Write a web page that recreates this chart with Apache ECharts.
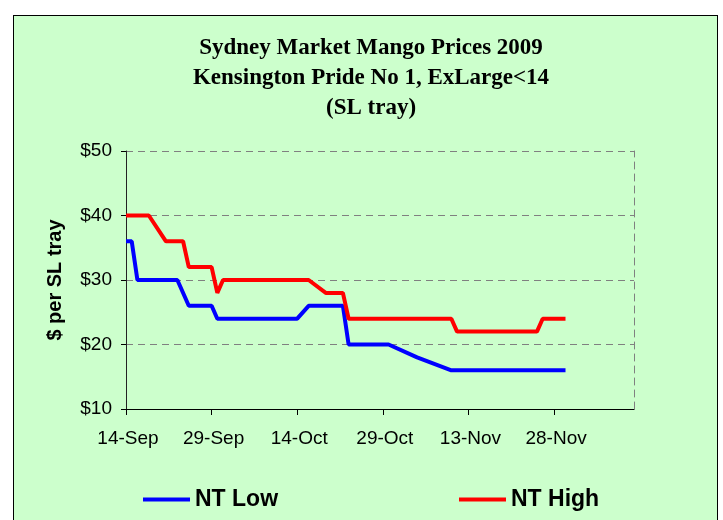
<!DOCTYPE html>
<html>
<head>
<meta charset="utf-8">
<script src="https://cdn.jsdelivr.net/npm/echarts@6/dist/echarts.min.js"></script>
<style>
  html, body { margin: 0; padding: 0; background: #ffffff; }
  #wrap { position: relative; width: 723px; height: 520px; overflow: hidden; }
  #box { position: absolute; left: 13px; top: 15px; width: 703px; height: 540px;
         border: 1px solid #000; background: #CCFFCC; }
  #chart { position: absolute; left: 0; top: 0; width: 723px; height: 520px; }
</style>
</head>
<body>
<div id="wrap"><div id="box"></div><div id="chart"></div></div>
<script>
// ---- data ----
const titleLines = ['Sydney Market Mango Prices 2009', 'Kensington Pride No 1, ExLarge<14', '(SL tray)'];
const yAxisName = '$ per SL tray';
const axisStart = '2009-09-14';
const axisEnd = '2009-12-12';
const tickStepDays = 15;
const yMin = 10, yMax = 50, yStep = 10;
const monthNames = ['Jan','Feb','Mar','Apr','May','Jun','Jul','Aug','Sep','Oct','Nov','Dec'];

const lowName = 'NT Low';
const lowDates = ['2009-09-14','2009-09-15','2009-09-16','2009-09-23','2009-09-25','2009-09-29','2009-09-30',
                  '2009-10-14','2009-10-16','2009-10-22','2009-10-23','2009-10-30','2009-11-04','2009-11-10','2009-11-30'];
const lowValues = [36,36,30,30,26,26,24,24,26,26,20,20,18,16,16];

const highName = 'NT High';
const highDates = ['2009-09-14','2009-09-18','2009-09-21','2009-09-24','2009-09-25','2009-09-29','2009-09-30',
                   '2009-10-01','2009-10-16','2009-10-19','2009-10-22','2009-10-23','2009-11-10','2009-11-11',
                   '2009-11-25','2009-11-26','2009-11-30'];
const highValues = [40,40,36,36,32,32,28,30,30,28,28,24,24,22,22,24,24];

// ---- helpers ----
const DAY = 86400000;
const t0 = Date.parse(axisStart);
function dayOf(d) { return (Date.parse(d) - t0) / DAY; }
function pairs(dates, vals) { return dates.map((d, i) => [dayOf(d), vals[i]]); }
function fmtDay(v) {
  const dt = new Date(t0 + v * DAY);
  return dt.getUTCDate() + '-' + monthNames[dt.getUTCMonth()];
}

const chart = echarts.init(document.getElementById('chart'), null, { renderer: 'canvas' });
const sans = 'Liberation Sans, Arial, sans-serif';
chart.setOption({
  animation: false,
  backgroundColor: 'transparent',
  title: {
    text: titleLines.join('\n'),
    left: 366, top: 28, textAlign: 'center',
    textStyle: { fontFamily: 'Liberation Serif, Times New Roman, serif', fontWeight: 'bold',
                 fontSize: 23, lineHeight: 30, color: '#000' }
  },
  legend: [
    { data: [lowName], left: 138, top: 483, icon: 'rect', itemWidth: 47, itemHeight: 4,
      textStyle: { fontFamily: sans, fontWeight: 'bold', fontSize: 23, color: '#000' } },
    { data: [highName], left: 454, top: 483, icon: 'rect', itemWidth: 47, itemHeight: 4,
      textStyle: { fontFamily: sans, fontWeight: 'bold', fontSize: 23, color: '#000' } }
  ],
  grid: { left: 126, right: 89, top: 151, bottom: 111 },
  xAxis: {
    type: 'value', min: 0, max: dayOf(axisEnd), interval: tickStepDays,
    axisLine: { show: true, lineStyle: { color: '#000', width: 1 } },
    axisTick: { show: true, length: 6, lineStyle: { color: '#000' } },
    axisLabel: { formatter: v => (v % tickStepDays === 0 ? fmtDay(v) : ''), showMaxLabel: false,
                 fontFamily: sans, fontSize: 19, color: '#000', margin: 20, padding: [0, 0, 0, 4] },
    splitLine: { show: false }
  },
  yAxis: [
    {
      type: 'value', min: yMin, max: yMax, interval: yStep, position: 'left',
      name: yAxisName, nameLocation: 'middle', nameGap: 61,
      nameTextStyle: { fontFamily: sans, fontWeight: 'bold', fontSize: 20, color: '#000' },
      axisLine: { show: true, lineStyle: { color: '#222', width: 1 } },
      axisTick: { show: true, length: 5, lineStyle: { color: '#000' } },
      axisLabel: { formatter: v => '$' + v, fontFamily: sans, fontSize: 19, color: '#000', margin: 14 },
      splitLine: { show: true, lineStyle: { color: '#808080', width: 1, type: [7, 5] } }
    },
    {
      type: 'value', min: yMin, max: yMax, interval: yStep, position: 'right',
      axisLine: { show: true, lineStyle: { color: '#808080', width: 1, type: [7, 5] } },
      axisTick: { show: false }, axisLabel: { show: false }, splitLine: { show: false }
    }
  ],
  series: [
    { name: lowName, type: 'line', data: pairs(lowDates, lowValues), showSymbol: false, symbol: 'none',
      color: '#0000FF', lineStyle: { color: '#0000FF', width: 4 } },
    { name: highName, type: 'line', data: pairs(highDates, highValues), showSymbol: false, symbol: 'none',
      color: '#FF0000', lineStyle: { color: '#FF0000', width: 4 } }
  ]
});
</script>
</body>
</html>
